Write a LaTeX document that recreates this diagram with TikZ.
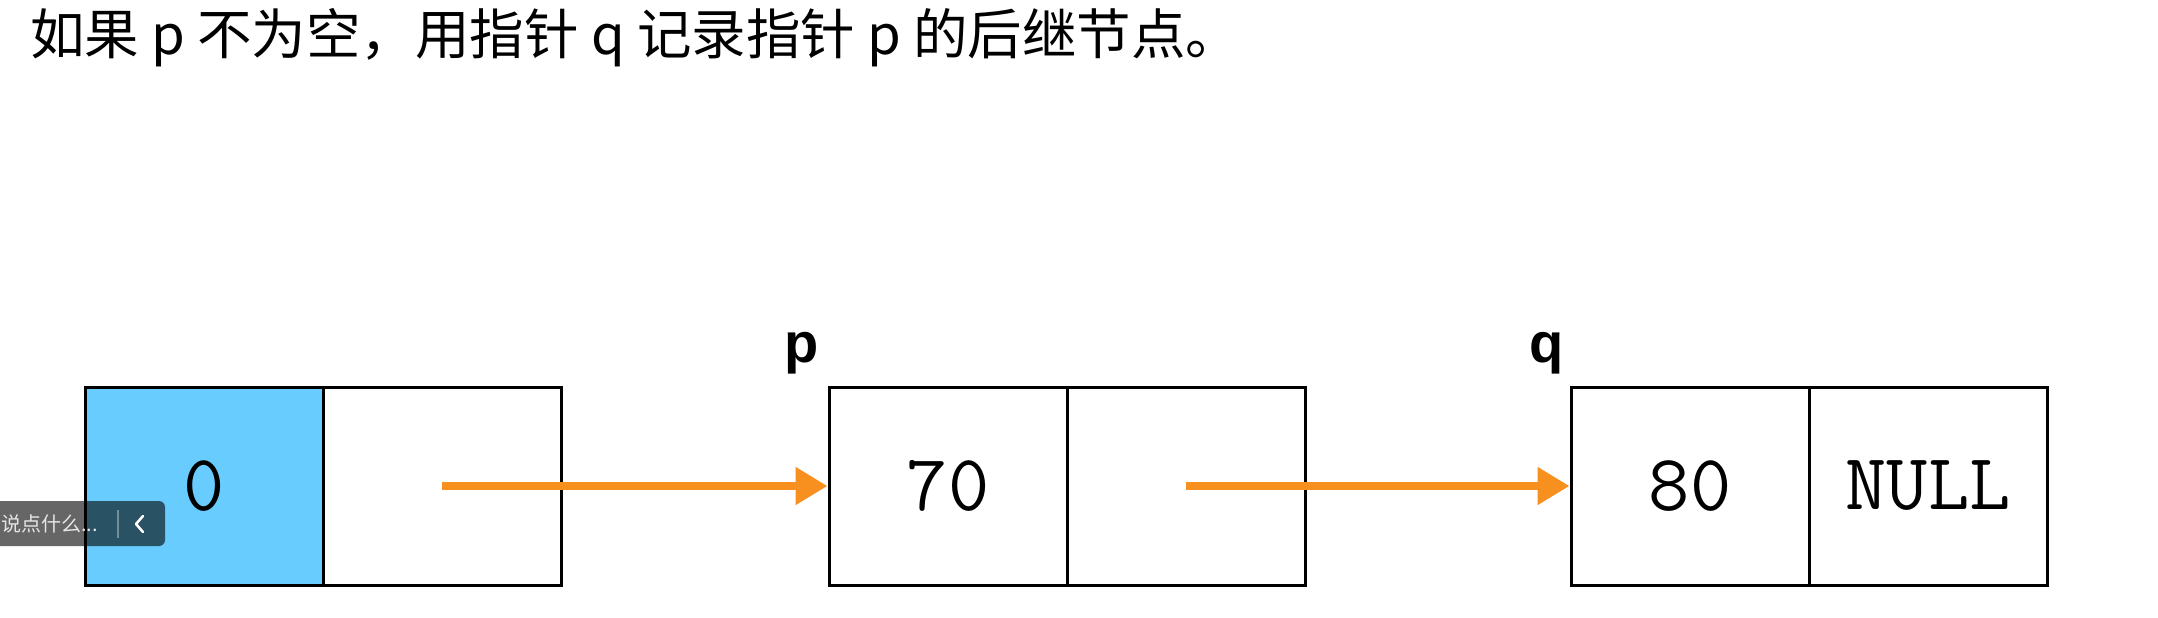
\documentclass[tikz,border=0pt]{standalone}
\usepackage{fontspec}
\setmainfont{Liberation Sans}
\newfontfamily\cjk{Noto Sans CJK SC}
\usetikzlibrary{arrows.meta}
\definecolor{nodeblue}{RGB}{104,205,254}
\definecolor{arroworange}{RGB}{247,144,30}
\tikzset{
  cell/.style={draw=black, line width=3pt, outer sep=0pt, minimum width=238pt, minimum height=198pt, inner sep=0pt, anchor=north west, font=\ttfamily\fontsize{80}{80}\selectfont},
  ptrarrow/.style={draw=arroworange, line width=8pt, -{Triangle[length=32pt,width=36pt]}},
  ptrlabel/.style={font=\bfseries\fontsize{56}{56}\selectfont, inner sep=0pt, anchor=base},
  overlay/.style={fill=black, fill opacity=0.6, rounded corners=6pt, draw=none}
}
\begin{document}
\begin{tikzpicture}[x=1pt,y=-1pt]
\useasboundingbox (0,0) rectangle (2158,618);
\fill[white] (0,0) rectangle (2158,618);
% title
\node[anchor=base west, inner sep=0pt, font=\cjk\fontsize{54.5}{54.5}\selectfont] (title) at (30,55) {如果 p 不为空，用指针 q 记录指针 p 的后继节点。};
% nodes
\node[cell, fill=nodeblue] (n1d) at (85,387) {0};
\node[cell] (n1p) at (n1d.north east) {};
\node[cell] (n2d) at (829,387) {70};
\node[cell] (n2p) at (n2d.north east) {};
\node[cell] (n3d) at (1571,387) {80};
\node[cell] (n3p) at (n3d.north east) {NULL};
% labels
\node[ptrlabel] (lp) at (802,362) {p};
\node[ptrlabel] (lq) at (1547,362) {q};
% arrows
\draw[ptrarrow] (n1p.center) -- ([xshift=-1.5pt]n2d.west);
\draw[ptrarrow] (n2p.center) -- ([xshift=-1.5pt]n3d.west);
% player overlay
\path[overlay] (-20,501) rectangle (165,546);
\node[anchor=west, inner sep=0pt, text=white!80!gray, font=\cjk\fontsize{20}{20}\selectfont] (hint) at (1,524) {说点什么...};
\coordinate (sepA) at (118,510);
\coordinate (sepB) at (118,538);
\draw[white, opacity=0.35, line width=1.2pt] (sepA) -- (sepB);
\coordinate (chevA) at (143,516);
\coordinate (chevB) at (136,524);
\coordinate (chevC) at (143,532);
\draw[white, line width=2.5pt, line cap=round, line join=round] (chevA) -- (chevB) -- (chevC);
\end{tikzpicture}
\end{document}
